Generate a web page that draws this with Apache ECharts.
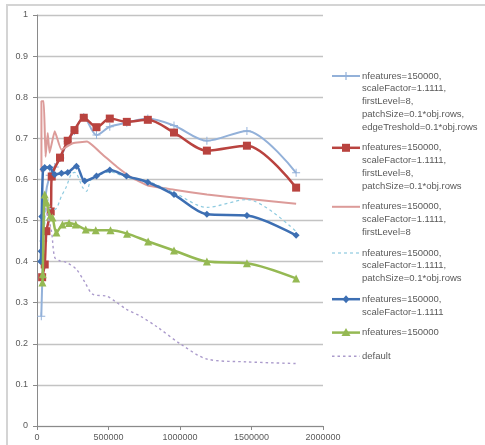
<!DOCTYPE html>
<html><head><meta charset="utf-8">
<script src="https://cdn.jsdelivr.net/npm/echarts@6/dist/echarts.min.js"></script>
<style>html,body{margin:0;padding:0;background:#fff}#c{width:485px;height:445px}</style>
</head><body><div id="c"></div>
<script>
// ---- data ----
const xTicks = [0, 500000, 1000000, 1500000, 2000000];
const yTicks = [0, 0.1, 0.2, 0.3, 0.4, 0.5, 0.6, 0.7, 0.8, 0.9, 1];

const edgeX = [30000, 45000, 56000, 89000, 124000, 163000, 215000, 262000, 327000, 416000, 509000, 628000, 775000, 958000, 1188000, 1468000, 1812000];
const edgeY = [0.267, 0.45, 0.55, 0.61, 0.63, 0.652, 0.692, 0.718, 0.752, 0.708, 0.728, 0.738, 0.748, 0.731, 0.694, 0.718, 0.616];

const patchLvlX = [36000, 54000, 66000, 96000, 103000, 161000, 215000, 262000, 327000, 416000, 509000, 628000, 775000, 958000, 1188000, 1468000, 1812000];
const patchLvlY = [0.362, 0.393, 0.474, 0.522, 0.607, 0.653, 0.694, 0.72, 0.75, 0.727, 0.748, 0.74, 0.745, 0.714, 0.67, 0.682, 0.58];

const lvlX = [45000, 31000, 31000, 47000, 60000, 75000, 88000, 124000, 171000, 250000, 350000, 460000, 560000, 660000, 775000, 958000, 1188000, 1468000, 1812000];
const lvlY = [0.62, 0.62, 0.79, 0.79, 0.655, 0.713, 0.665, 0.717, 0.672, 0.688, 0.692, 0.66, 0.63, 0.605, 0.585, 0.575, 0.563, 0.553, 0.541];

const patchX = [54000, 70000, 124000, 171000, 206000, 241000, 264000, 320000, 346000, 381000, 509000, 628000, 775000, 958000, 1188000, 1468000, 1812000];
const patchY = [0.49, 0.53, 0.527, 0.559, 0.583, 0.614, 0.617, 0.58, 0.571, 0.6, 0.618, 0.605, 0.595, 0.568, 0.532, 0.551, 0.473];

const scaleX = [26000, 29000, 33000, 42000, 54000, 89000, 124000, 171000, 215000, 276000, 334000, 416000, 509000, 626000, 775000, 958000, 1188000, 1468000, 1812000];
const scaleY = [0.40, 0.425, 0.51, 0.625, 0.629, 0.629, 0.612, 0.615, 0.617, 0.632, 0.596, 0.608, 0.623, 0.608, 0.593, 0.563, 0.515, 0.512, 0.464];

const featX = [38000, 40000, 54000, 68000, 91000, 108000, 136000, 178000, 224000, 271000, 341000, 411000, 514000, 630000, 777000, 958000, 1188000, 1468000, 1812000];
const featY = [0.349, 0.369, 0.563, 0.544, 0.51, 0.507, 0.471, 0.49, 0.494, 0.49, 0.478, 0.476, 0.476, 0.468, 0.449, 0.427, 0.40, 0.396, 0.359];

const defX = [60000, 101000, 124000, 159000, 206000, 276000, 334000, 392000, 486000, 544000, 626000, 719000, 836000, 1006000, 1188000, 1468000, 1818000];
const defY = [0.53, 0.474, 0.41, 0.402, 0.398, 0.381, 0.35, 0.32, 0.316, 0.304, 0.284, 0.268, 0.242, 0.199, 0.163, 0.156, 0.152];

const legendLines = [
  ["nfeatures=150000,", "scaleFactor=1.1111,", "firstLevel=8,", "patchSize=0.1*obj.rows,", "edgeTreshold=0.1*obj.rows"],
  ["nfeatures=150000,", "scaleFactor=1.1111,", "firstLevel=8,", "patchSize=0.1*obj.rows"],
  ["nfeatures=150000,", "scaleFactor=1.1111,", "firstLevel=8"],
  ["nfeatures=150000,", "scaleFactor=1.1111,", "patchSize=0.1*obj.rows"],
  ["nfeatures=150000,", "scaleFactor=1.1111"],
  ["nfeatures=150000"],
  ["default"]
];

// ---- styles ----
const PLUS = 'path://M0,4.4H10V5.6H0Z M4.4,0H5.6V10H4.4Z';
const defs = [
  {x: edgeX, y: edgeY, color: '#93b1d9', width: 2, symbol: PLUS, size: 8, type: 'solid', mk: 'plus', smooth: 0.3},
  {x: patchLvlX, y: patchLvlY, color: '#b9433f', width: 2.5, symbol: 'rect', size: 8, type: 'solid', mk: 'rect', smooth: 0.3},
  {x: lvlX, y: lvlY, color: '#dc9b99', width: 2, symbol: 'none', size: 0, type: 'solid', mk: null, smooth: 0.12},
  {x: patchX, y: patchY, color: '#8fcbe0', width: 1.2, symbol: 'none', size: 0, type: [3, 3], mk: null, smooth: 0.3},
  {x: scaleX, y: scaleY, color: '#3d6fb3', width: 2.5, symbol: 'diamond', size: 7, type: 'solid', mk: 'diamond', smooth: 0.3},
  {x: featX, y: featY, color: '#95b953', width: 2.5, symbol: 'triangle', size: 8, type: 'solid', mk: 'triangle', smooth: 0.3},
  {x: defX, y: defY, color: '#ab9bcc', width: 1.4, symbol: 'none', size: 0, type: [2.5, 3], mk: null, smooth: 0.3}
];

const series = defs.map((d, i) => ({
  name: legendLines[i].join(' '),
  type: 'line',
  data: d.x.map((xv, k) => [xv, d.y[k]]),
  smooth: d.smooth,
  symbol: d.symbol,
  symbolSize: d.size,
  showSymbol: d.symbol !== 'none',
  lineStyle: {color: d.color, width: d.width, type: d.type},
  itemStyle: {color: d.color, borderWidth: 0},
  emphasis: {disabled: true},
  animation: false,
  z: 2 + i
}));

// ---- legend (drawn as graphic, icon aligned with first text line) ----
const LH = 12.8, GAP = 20.6, LX = 332, LW = 28;
const graphics = [{
  type: 'rect', shape: {x: 7, y: 5, width: 520, height: 520},
  style: {fill: null, stroke: '#d4d4d4', lineWidth: 2}, silent: true, z: 0
}];
let ly = 76;
defs.forEach((d, i) => {
  const children = [
    {type: 'line', shape: {x1: 0, y1: 0, x2: LW, y2: 0},
     style: {stroke: d.color, lineWidth: d.width, lineDash: Array.isArray(d.type) ? d.type : null}}
  ];
  const c = LW / 2;
  if (d.mk === 'rect') children.push({type: 'rect', shape: {x: c - 4, y: -4, width: 8, height: 8}, style: {fill: d.color}});
  if (d.mk === 'diamond') children.push({type: 'polygon', shape: {points: [[c, -4], [c + 3.5, 0], [c, 4], [c - 3.5, 0]]}, style: {fill: d.color}});
  if (d.mk === 'triangle') children.push({type: 'polygon', shape: {points: [[c, -4.5], [c + 4.5, 3.5], [c - 4.5, 3.5]]}, style: {fill: d.color}});
  if (d.mk === 'plus') children.push({type: 'line', shape: {x1: c, y1: -4, x2: c, y2: 4}, style: {stroke: d.color, lineWidth: 1.2}});
  children.push({type: 'text', style: {
    text: legendLines[i].join('\n'), x: LW + 2, y: -LH / 2, lineHeight: LH,
    verticalAlign: 'top', fill: '#5a5a5a', font: '9.5px "Liberation Sans", sans-serif'
  }});
  graphics.push({type: 'group', x: LX, y: ly, children, silent: true, z: 10});
  ly += (legendLines[i].length - 1) * LH + GAP + (i === 5 ? 3 : 0);
});

const chart = echarts.init(document.getElementById('c'), null, {renderer: 'canvas'});
chart.setOption({
  backgroundColor: '#ffffff',
  animation: false,
  grid: {left: 37, right: 162, top: 15, bottom: 19, containLabel: false},
  xAxis: {
    type: 'value', min: xTicks[0], max: xTicks[xTicks.length - 1], interval: xTicks[1] - xTicks[0],
    axisLine: {lineStyle: {color: '#8a8a8a', width: 1}},
    axisTick: {show: true, length: 4, lineStyle: {color: '#8a8a8a'}},
    axisLabel: {color: '#5a5a5a', fontSize: 9, margin: 7, fontFamily: 'Liberation Sans', formatter: v => String(v)},
    splitLine: {show: false}
  },
  yAxis: {
    type: 'value', min: yTicks[0], max: yTicks[yTicks.length - 1], interval: yTicks[1] - yTicks[0],
    axisLine: {show: true, lineStyle: {color: '#8a8a8a', width: 1}},
    axisTick: {show: true, length: 4, lineStyle: {color: '#8a8a8a'}},
    axisLabel: {color: '#5a5a5a', fontSize: 9, margin: 9, fontFamily: 'Liberation Sans'},
    splitLine: {show: true, lineStyle: {color: '#c3c3c3', width: 1.3}}
  },
  series,
  graphic: graphics
});
</script></body></html>
